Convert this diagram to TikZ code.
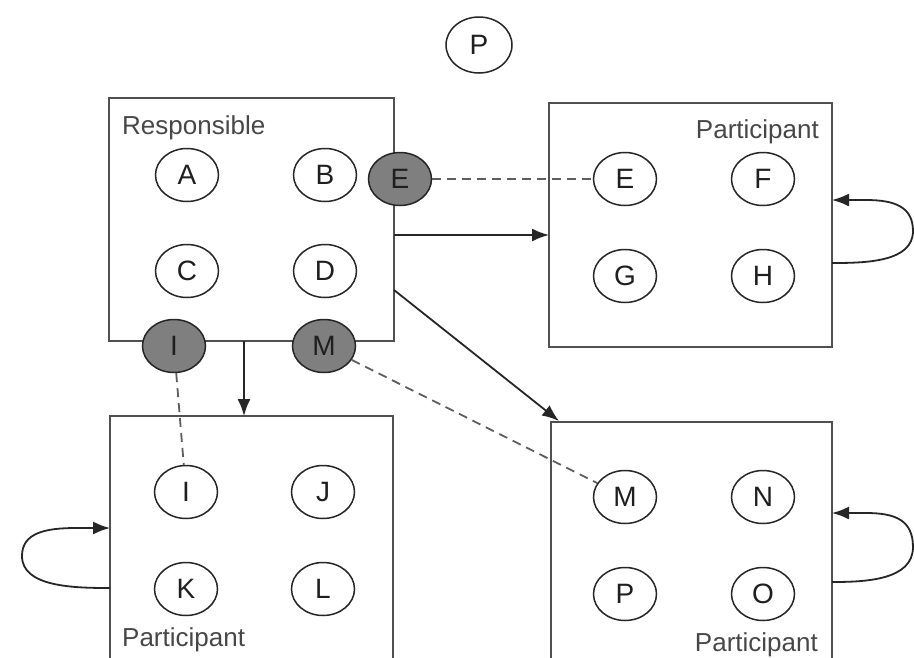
\documentclass[tikz,border=0pt]{standalone}
\usepackage{fontspec}
\setmainfont{Liberation Sans}
\usetikzlibrary{arrows.meta,shapes.geometric}
\definecolor{lin}{HTML}{262626}
\definecolor{boxc}{HTML}{505050}
\definecolor{fillg}{HTML}{7F7F7F}
\definecolor{dashc}{HTML}{5E5E5E}
\begin{document}
\begin{tikzpicture}[x=1pt,y=-1pt,
  st/.style={ellipse,draw=lin,line width=1.5pt,minimum width=63pt,minimum height=53pt,inner sep=0pt,font=\fontsize{28}{28}\selectfont,text=black!88},
  gst/.style={st,fill=fillg},
  frame/.style={draw=boxc,line width=2pt,rectangle,inner sep=0pt},
  lab/.style={font=\fontsize{26}{26}\selectfont,text=black!72,inner sep=0pt},
  arr/.style={draw=lin,line width=1.8pt,-{Latex[length=17pt,width=13pt]}},
  dsh/.style={draw=dashc,line width=1.8pt,dash pattern=on 9pt off 6pt}]
\useasboundingbox (0,0) rectangle (914,657);
\clip (0,0) rectangle (914,657);
% frames
\node[frame,minimum width=285pt,minimum height=243pt] (R) at (251.5,219.5) {};
\node[frame,minimum width=283pt,minimum height=244pt] (P1) at (690.5,225) {};
\node[frame,minimum width=283pt,minimum height=280pt] (P2) at (251.5,556) {};
\node[frame,minimum width=281pt,minimum height=270pt] (P3) at (691.5,557) {};
% labels
\node[lab,anchor=base west] (lr) at (122,134) {Responsible};
\node[lab,anchor=base east] (l1) at (819,138) {Participant};
\node[lab,anchor=base west] (l2) at (122,646) {Participant};
\node[lab,anchor=base east] (l3) at (818,651) {Participant};
% top P
\node[st,minimum width=66pt,minimum height=56pt] (Ptop) at (479,45) {P};
% responsible
\node[st] (A) at (187,175) {A};
\node[st] (B) at (325,175) {B};
\node[st] (C) at (187,271) {C};
\node[st] (D) at (325,271) {D};
\node[gst] (Eg) at (400,179) {E};
\node[gst] (Ig) at (174,346) {I};
\node[gst] (Mg) at (324,346) {M};
% participant 1
\node[st] (E2) at (625,179) {E};
\node[st] (F) at (763,179) {F};
\node[st] (G) at (625,276) {G};
\node[st] (H) at (763,276) {H};
% participant 2
\node[st] (I2) at (186,492) {I};
\node[st] (J) at (323,492) {J};
\node[st] (K) at (186,589) {K};
\node[st] (L) at (323,589) {L};
% participant 3
\node[st] (M2) at (625,497) {M};
\node[st] (N) at (763,497) {N};
\node[st] (P4) at (625,594) {P};
\node[st] (O) at (763,594) {O};
% connector points
\coordinate (ro1) at (394,235);
\coordinate (ti1) at (549,235);
\coordinate (ro2) at (394,290);
\coordinate (ti2) at (559,421);
\coordinate (rb) at (244,341);
\coordinate (bt) at (244,416);
\coordinate (h1) at (832,263);
\coordinate (h2) at (832,200);
\coordinate (k1) at (110,588);
\coordinate (k2) at (110,528);
\coordinate (o1) at (832,582);
\coordinate (o2) at (832,513);
% connectors
\draw[arr] (h1) .. controls (866,263) and (913,262) .. (913,231) .. controls (913,207) and (895,200) .. (866,200) -- (h2);
\draw[arr] (k1) .. controls (74,588) and (22,587) .. (22,556) .. controls (22,533) and (45,528) .. (76,528) -- (k2);
\draw[arr] (o1) .. controls (866,582) and (913,580) .. (913,547) .. controls (913,520) and (895,513) .. (866,513) -- (o2);
\draw[arr] (ro1) -- (ti1);
\draw[arr] (ro2) -- (ti2);
\draw[arr] (rb) -- (bt);
\draw[dsh] (Eg) -- (E2);
\draw[dsh] (Ig) -- (I2);
\draw[dsh] (Mg) -- (M2);
\end{tikzpicture}
\end{document}
